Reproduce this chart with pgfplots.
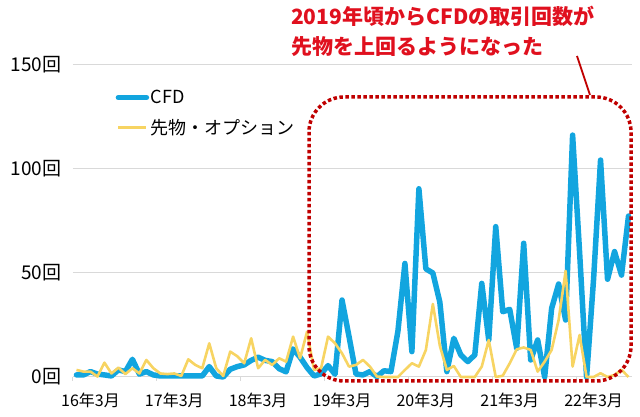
\documentclass[border=0pt]{standalone}
\usepackage{fontspec}
\setmainfont{Noto Sans CJK JP}
\usepackage{pgfplots}
\pgfplotsset{compat=1.18}
\definecolor{cfd}{HTML}{12A5DF}
\definecolor{fut}{HTML}{F7D462}
\definecolor{gridc}{HTML}{D9D9D9}
\definecolor{annred}{HTML}{E0101E}
\definecolor{boxred}{HTML}{C00000}
\pgfplotstableread{
i cfd fut
0 1 3.4
1 1 2.6
2 2.6 2.6
3 1.4 0.2
4 1 6.9
5 0.5 1.7
6 3.4 4.5
7 2.6 1.4
8 8.5 4.2
9 1.4 1.7
10 2.6 8.2
11 1 4.2
12 0.5 1.7
13 0.5 1.4
14 0.5 1.7
15 0.5 0.5
16 0.5 8.5
17 0.5 5.8
18 0.5 4.2
19 5 16.2
20 0.5 4.2
21 0 0.5
22 3.7 12.2
23 5 10
24 5.8 6.6
25 8 18.6
26 9.5 4.2
27 8 8.2
28 7.4 5.8
29 4 9
30 2.5 7.4
31 13.5 19.4
32 9.5 9
33 4.5 21.8
34 0.5 3.4
35 1.5 4.2
36 5.5 19.4
37 1.3 16.2
38 37 11.4
39 19.5 5
40 1.4 5.8
41 1 8.2
42 2.6 5
43 0.2 0.2
44 3 0
45 2.6 0
46 22 0
47 54.6 3.4
48 12.2 6.6
49 90.5 5
50 52 13
51 50 35.1
52 36 15
53 2.6 3.4
54 18.6 5.3
55 10.6 0
56 7.4 0
57 10.6 0
58 45 5
59 17.8 17.8
60 72.3 0
61 31.4 0.6
62 32.5 6.6
63 13.8 13.3
64 64.3 14.2
65 8.2 13
66 17.8 2.6
67 0 7.4
68 33 13
69 44.7 27.4
70 27.4 51
71 116.3 5
72 60 20.2
73 0 0
74 47 0
75 104.3 1.8
76 47 0
77 60.3 1
78 49 3.5
79 77.4 0
}\datatable
\begin{document}
\begin{tikzpicture}[x=1pt,y=1pt]
\path[use as bounding box] (0,0) rectangle (640,417);
\begin{axis}[
  at={(73pt,40pt)}, anchor=south west,
  scale only axis, width=559pt, height=312pt,
  xmin=-0.5, xmax=79.5, ymin=0, ymax=150,
  clip=false,
  axis line style={draw=none},
  ytick={0,50,100,150},
  yticklabels={0回,50回,100回,150回},
  ymajorgrids,
  grid style={gridc, line width=1pt},
  xtick={2,14,26,38,50,62,74},
  xticklabels={16年3月,17年3月,18年3月,19年3月,20年3月,21年3月,22年3月},
  minor xtick={-0.5,11.5,23.5,35.5,47.5,59.5,71.5},
  major tick length=0pt,
  minor tick length=4pt,
  tick align=outside,
  xtick pos=bottom, ytick pos=left,
  minor tick style={gridc, line width=1pt},
  yticklabel style={font=\fontsize{19}{19}\selectfont, xshift=-8pt},
  xticklabel style={font=\fontsize{16}{16}\selectfont, yshift=-12pt},
  legend style={at={(axis description cs:0.076,0.925)}, anchor=north west,
    draw=none, fill=none, font=\fontsize{18}{18}\selectfont,
    row sep=11pt, inner sep=0pt, nodes={inner sep=1.5pt}},
  legend cell align=left,
  legend image code/.code={\draw[#1] (0pt,0pt) -- (28pt,0pt);},
]
\addplot[cfd, line width=5.5pt, line join=round, line cap=round] table[x=i, y=cfd] {\datatable};
\addlegendentry{CFD}
\addplot[fut, line width=2.6pt, line join=round] table[x=i, y=fut] {\datatable};
\addlegendentry{先物・オプション}
\end{axis}
\draw[boxred, line width=3.5pt, dash pattern=on 3.5pt off 2.5pt, rounded corners=35pt]
  (309,320) rectangle (631,36);
\draw[boxred, line width=1.8pt] (577,361) -- (590,322);
\node[anchor=base west, inner sep=0pt, text=annred, font=\fontsize{21}{21}\selectfont\bfseries]
  at (291,392) {2019年頃からCFDの取引回数が};
\node[anchor=base west, inner sep=0pt, text=annred, font=\fontsize{21}{21}\selectfont\bfseries]
  at (291,362) {先物を上回るようになった};
\end{tikzpicture}
\end{document}
